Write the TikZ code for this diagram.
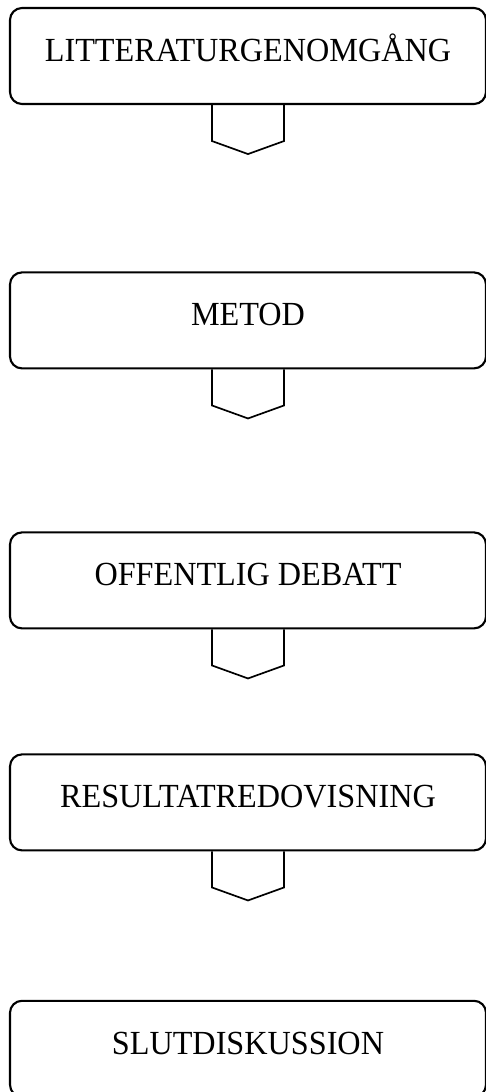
\documentclass[tikz,border=0pt]{standalone}
\usepackage{fontspec}
\setmainfont[FakeStretch=0.955]{Liberation Serif}
\usepackage{tikz}
\tikzset{box/.style={rectangle,rounded corners=0.3cm,draw,line width=1.5pt,minimum width=11.9cm,minimum height=2.4cm,text height=0.6cm,text depth=0.34cm,font=\fontsize{24}{29}\selectfont}}
\tikzset{pil/.style={line width=1.2pt,line join=miter}}

\begin{document}
\begin{tikzpicture}
        \clip (0,0) rectangle (12.15,-27.3);
        \node[box] (litt) at (6.2,-1.4) {LITTERATURGENOMGÅNG};
        \node[box] (metod) at (6.2,-8.01) {METOD};
        \node[box] (debatt) at (6.2,-14.51) {OFFENTLIG DEBATT};
        \node[box] (result) at (6.2,-20.06) {RESULTATREDOVISNING};
        \node[box] (slut) at (6.2,-26.22) {SLUTDISKUSSION};

        \foreach \n in {litt,metod,debatt,result}
            \draw [pil] ([xshift=-0.9cm]\n.south) -- ++(0,-0.9) -- ++(0.9,-0.325) -- ++(0.9,0.325) -- ++(0,0.9);
    \end{tikzpicture}
\end{document}
